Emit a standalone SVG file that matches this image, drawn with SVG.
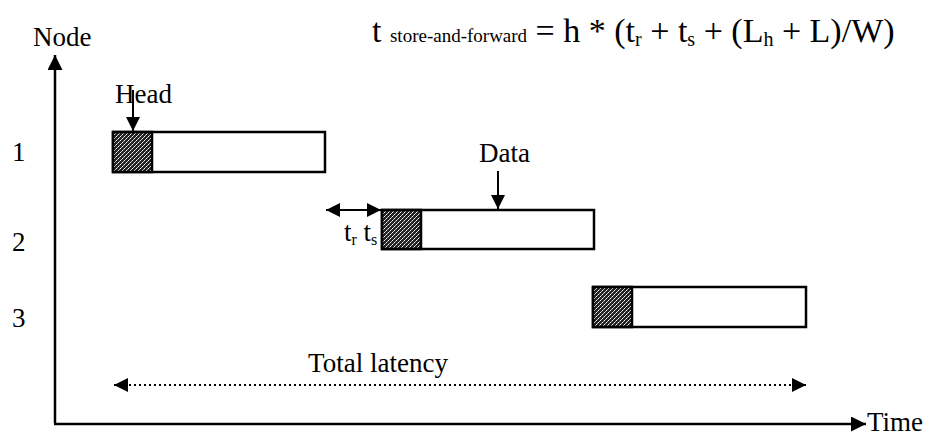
<svg xmlns="http://www.w3.org/2000/svg" width="927" height="437" viewBox="0 0 927 437">
<style>
text{font-family:"Liberation Serif","Times New Roman",serif;fill:#000}
.lbl{font-size:27px}
.box{fill:#fff;stroke:#000;stroke-width:2.5}
.head{fill:url(#hatch);stroke:#000;stroke-width:2.5}
.ln{stroke:#000;stroke-width:2;fill:none}
.ax{stroke:#000;stroke-width:2.5;fill:none}
.dot{stroke:#000;stroke-width:2;stroke-dasharray:2 3;fill:none}
</style>
<defs>
<pattern id="hatch" width="4" height="4" patternUnits="userSpaceOnUse">
<rect width="4" height="4" fill="#222"/>
<rect x="0" y="0" width="1" height="1" fill="#fff"/>
<rect x="2" y="2" width="1" height="1" fill="#fff"/>
<rect x="1" y="3" width="1" height="1" fill="#bbb"/>
<rect x="3" y="1" width="1" height="1" fill="#bbb"/>
</pattern>
<marker id="ah" viewBox="0 0 10 10" refX="10" refY="5" markerWidth="6" markerHeight="6" markerUnits="strokeWidth" orient="auto-start-reverse">
<path d="M0,0 L10,5 L0,10 Z" fill="#000"/>
</marker>
<marker id="ahs" viewBox="0 0 10 10" refX="10" refY="5" markerWidth="7" markerHeight="7" markerUnits="strokeWidth" orient="auto-start-reverse">
<path d="M0,0 L10,5 L0,10 Z" fill="#000"/>
</marker>
</defs>

<g id="formula">
<text x="372" y="42" font-size="34">t <tspan font-size="19">store-and-forward</tspan> = h * (t<tspan font-size="20" dy="4">r</tspan><tspan dy="-4"> + t</tspan><tspan font-size="20" dy="4">s</tspan><tspan dy="-4"> + (L</tspan><tspan font-size="20" dy="4">h</tspan><tspan dy="-4"> + L)/W)</tspan></text>
</g>

<g id="axes">
<text class="lbl" x="33" y="46">Node</text>
<text class="lbl" x="867" y="431">Time</text>
<text class="lbl" x="12" y="161">1</text>
<text class="lbl" x="12" y="251">2</text>
<text class="lbl" x="12" y="327">3</text>
</g>

<g id="node1">
<rect class="box" x="113" y="132" width="212" height="40"/>
<rect class="head" x="113" y="132" width="39" height="40"/>
<text class="lbl" x="115" y="103">Head</text>
</g>

<g id="node2">
<rect class="box" x="382" y="210" width="212" height="39"/>
<rect class="head" x="382" y="210" width="39" height="39"/>
<text class="lbl" x="479" y="162">Data</text>
<text x="344" y="241" font-size="27">t<tspan font-size="16" dy="4">r</tspan><tspan dy="-4"> t</tspan><tspan font-size="16" dy="4">s</tspan></text>
</g>

<g id="node3">
<rect class="box" x="593" y="287" width="213" height="40"/>
<rect class="head" x="593" y="287" width="39" height="40"/>
</g>

<g id="latency">
<text class="lbl" x="378" y="372" text-anchor="middle">Total latency</text>
</g>

<g id="connectors">
<path class="ax" d="M55,423 V55" marker-end="url(#ah)"/>
<path class="ax" d="M54,424 H866" marker-end="url(#ah)"/>
<path class="ln" d="M133,90 V131" marker-end="url(#ahs)"/>
<path class="ln" d="M498,171 V209" marker-end="url(#ahs)"/>
<path class="ln" d="M326,210 H381" marker-start="url(#ahs)" marker-end="url(#ahs)"/>
<path class="dot" d="M114,385 H806" marker-start="url(#ahs)" marker-end="url(#ahs)"/>
</g>
</svg>
